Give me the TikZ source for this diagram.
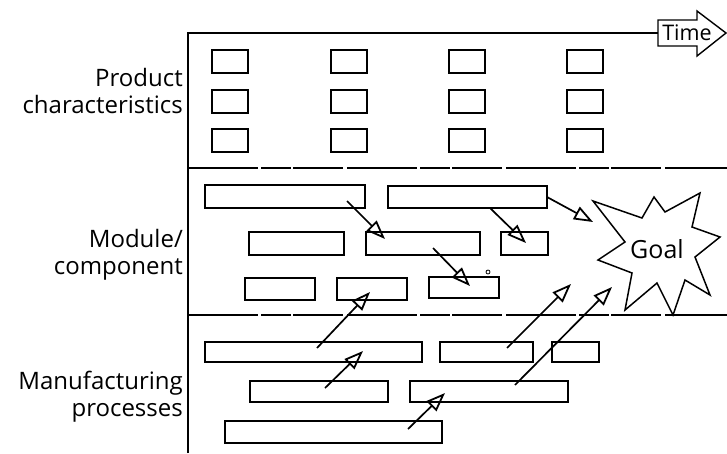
\documentclass[tikz,border=0pt]{standalone}
\usepackage{fontspec}
\setmainfont{Open Sans}
\usetikzlibrary{arrows.meta,fit,calc}
\tikzset{
  box/.style={draw, line width=1.5pt, inner sep=0pt, outer sep=0pt},
  lab/.style={anchor=east, align=right, font=\fontsize{24}{27}\selectfont, inner sep=0pt},
  arr/.style={line width=1.7pt, -{Triangle[open,length=19pt,width=14pt,line width=1.8pt]}},
  sep/.style={line width=1.2pt, dash pattern=on 70pt off 3pt on 30pt off 2pt on 50pt off 4pt},
  frame/.style={line width=1.4pt},
}
\begin{document}
\begin{tikzpicture}[x=1pt,y=-1pt]
\useasboundingbox (0,0) rectangle (727,453);
% frame and time arrow
\node[font=\fontsize{21.5}{24}\selectfont, inner sep=0pt] (time) at (687,33) {Time};
\coordinate (tl) at (188,33);
\coordinate (bl) at (188,453);
\draw[frame] (bl) -- (tl) -- (658,33);
\draw[frame, line join=miter] (658,20) -- (697,20) -- (697,11) -- (726,33) -- (697,56) -- (697,46) -- (658,46) -- cycle;
% separators
\coordinate (s1l) at (188,168); \coordinate (s1r) at (727,168);
\coordinate (s2l) at (188,315); \coordinate (s2r) at (727,315);
\draw[sep] (s1l) -- (s1r);
\draw[sep] (s2l) -- (s2r);
% labels
\node[lab] (lp) at (183,91) {Product\\characteristics};
\node[lab] (lm) at (183,255) {Module/\\component};
\node[lab] (lmp) at (183,397) {Manufacturing\\processes};
% product characteristic grid
\foreach \cx/\c in {212/1,331/2,449/3,567/4}{
  \foreach \ry/\r in {50/1,90/2,129/3}{
    \node[box, fit={(\cx,\ry) ($(\cx,\ry)+(36,23)$)}] (p\r\c) {};
  }
}
% module / component boxes
\node[box, fit={(205,185) (365,208)}] (mA) {};
\node[box, fit={(388,186) (547,208)}] (mB) {};
\node[box, fit={(249,232) (344,255)}] (mC) {};
\node[box, fit={(366,232) (480,255)}] (mD) {};
\node[box, fit={(501,232) (548,255)}] (mE) {};
\node[box, fit={(245,278) (315,300)}] (mF) {};
\node[box, fit={(337,278) (407,300)}] (mG) {};
\node[box, fit={(429,277) (499,298)}] (mH) {};
\node[draw, circle, line width=0.8pt, minimum size=4pt, inner sep=0pt] (dot) at (488,272) {};
% manufacturing boxes
\node[box, fit={(205,342) (422,362)}] (fA) {};
\node[box, fit={(440,342) (533,362)}] (fB) {};
\node[box, fit={(552,342) (599,362)}] (fC) {};
\node[box, fit={(250,381) (388,402)}] (fD) {};
\node[box, fit={(410,381) (568,402)}] (fE) {};
\node[box, fit={(225,421) (442,443)}] (fF) {};
% goal star
\node[font=\fontsize{25}{28}\selectfont, inner sep=0pt] (goal) at (657,249) {Goal};
\draw[line width=1.5pt, line join=miter]
  (593,201) -- (642,218) -- (654,197) -- (665,212) -- (700,193) -- (692,227)
  -- (720,237) -- (695,257) -- (710,295) -- (685,280) -- (673,315) -- (657,283)
  -- (625,310) -- (632,273) -- (598,260) -- (625,242) -- cycle;
\coordinate (gA) at (593,222);
\coordinate (gB) at (571,284);
\coordinate (gC) at (612,287);
% arrow end points
\coordinate (a1s) at (347,201); \coordinate (a1t) at (385,239);
\coordinate (a2s) at (490,208); \coordinate (a2t) at (526,243);
\coordinate (a3s) at (433,248); \coordinate (a3t) at (470,286);
\coordinate (a4s) at (547,197);
\coordinate (a5s) at (317,348); \coordinate (a5t) at (370,292);
\coordinate (a6s) at (325,388); \coordinate (a6t) at (363,351);
\coordinate (a7s) at (408,429); \coordinate (a7t) at (445,393);
\coordinate (a8s) at (507,348);
\coordinate (a9s) at (515,385);
\draw[arr] (a1s) -- (a1t);
\draw[arr] (a2s) -- (a2t);
\draw[arr] (a3s) -- (a3t);
\draw[arr] (a4s) -- (gA);
\draw[arr] (a5s) -- (a5t);
\draw[arr] (a6s) -- (a6t);
\draw[arr] (a7s) -- (a7t);
\draw[arr] (a8s) -- (gB);
\draw[arr] (a9s) -- (gC);
\end{tikzpicture}
\end{document}
